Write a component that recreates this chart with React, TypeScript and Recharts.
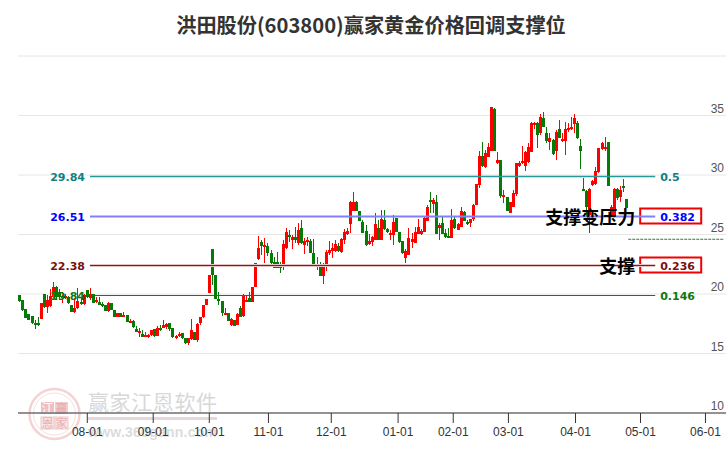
import { ComposedChart, Bar, XAxis, YAxis, CartesianGrid, ReferenceLine } from 'recharts'

const opens = [
  19.91, 19.49, 18.73, 18.31, 18.15, 17.53, 17.53, 17.92, 19.97, 18.93,
  18.99, 19.77, 20.61, 20.19, 19.71, 19.69, 19.71, 19.07, 18.51, 18.79,
  19.35, 19.13, 20.33, 19.63, 19.99, 19.29, 19.32, 19.13, 19.07, 18.59,
  19.21, 18.65, 18.09, 18.43, 18.15, 18.2, 17.67, 17.75, 17.05, 16.77,
  16.63, 16.47, 16.47, 16.55, 17.03, 16.49, 17.14, 17.17, 17.25, 17.53,
  17.11, 16.35, 16.47, 16.69, 16.3, 15.91, 16.21, 16.8, 16.13, 17.59,
  18.03, 19.07, 20.11, 23.77, 21.59, 19.6, 19.41, 18.29, 18.43, 17.39,
  17.81, 17.42, 18.79, 18.17, 19.4, 19.63, 19.35, 20.61, 22.91, 24.36,
  23.97, 24.03, 23.41, 22.65, 22.65, 22.34, 22.29, 23.83, 24.95, 24.56,
  24.75, 24.31, 25.54, 24.11, 24.39, 24.47, 23.41, 22.34, 22.37, 21.53,
  22.29, 23.47, 23.64, 23.63, 24.03, 23.49, 24.53, 25.06, 25.85, 26.99,
  27.72, 26.97, 26.04, 25.29, 24.19, 24.36, 24.56, 25.57, 24.56, 26.21,
  25.45, 24.98, 24.98, 26.38, 25.2, 24.45, 23.05, 23.27, 24.33, 24.31,
  25.06, 25.06, 25.23, 26.15, 27.86, 27.58, 27.69, 25.51, 25.93, 25.15,
  24.87, 24.73, 26.27, 25.4, 25.65, 26.88, 26.07, 25.99, 26.27, 27.44,
  29.15, 31.59, 30.69, 31.53, 32.03, 35.56, 31.03, 31.25, 28.11, 28.11,
  26.83, 27.33, 28.37, 30.75, 30.97, 30.77, 31.11, 31.95, 34.19, 34.39,
  33.49, 34.75, 33.55, 32.79, 32.93, 32.01, 33.85, 32.87, 32.87, 33.74,
  33.88, 34.27, 34.33, 32.43, 28.84, 28.65, 26.63, 29.18, 29.21, 30.27,
  32.17, 32.17, 32.76, 26.55, 26.55, 28.79, 28.17, 29.07, 27.97,
]

const closes = [
  19.43, 18.65, 18.01, 17.81, 17.59, 17.45, 17.39, 19.21, 18.87, 19.49,
  19.85, 20.61, 19.77, 19.71, 19.83, 19.83, 19.21, 18.51, 18.79, 19.41,
  19.21, 19.91, 19.71, 19.99, 19.21, 19.49, 19.07, 18.99, 18.59, 19.21,
  18.65, 18.09, 18.37, 18.09, 18.23, 17.67, 17.75, 17.25, 16.83, 16.86,
  16.41, 16.52, 16.52, 16.97, 16.47, 17.11, 17.08, 17.36, 17.47, 17.03,
  16.41, 16.47, 16.63, 16.27, 15.91, 16.27, 16.97, 16.13, 17.47, 18.09,
  19.07, 19.55, 21.59, 21.59, 19.55, 19.52, 18.37, 18.43, 17.75, 17.87,
  17.33, 18.29, 18.09, 19.85, 19.5, 19.35, 20.55, 22.57, 23.83, 24.05,
  24.11, 23.41, 22.57, 22.21, 22.21, 22.26, 24.19, 25.17, 24.81, 24.75,
  24.53, 25.37, 24.25, 24.47, 24.53, 23.41, 22.37, 22.43, 21.53, 22.37,
  23.49, 23.69, 23.83, 24.19, 23.58, 24.61, 25.17, 25.29, 27.75, 27.75,
  26.99, 26.13, 25.15, 24.11, 24.45, 24.81, 25.87, 24.56, 26.29, 25.43,
  25.23, 25.09, 26.04, 25.23, 24.39, 23.47, 23.61, 24.7, 24.61, 25.17,
  25.62, 25.31, 26.41, 27.3, 27.75, 27.86, 25.06, 25.79, 25.03, 24.81,
  24.75, 26.21, 25.57, 25.87, 26.97, 26.13, 25.99, 26.27, 27.47, 29.23,
  31.59, 30.77, 31.81, 32.37, 35.7, 32.03, 31.25, 28.23, 28.31, 26.99,
  27.75, 28.45, 30.97, 31.05, 31.17, 31.95, 32.37, 34.33, 34.39, 33.35,
  34.89, 34.05, 32.85, 33.07, 31.75, 33.6, 33.13, 32.99, 33.85, 33.99,
  34.05, 34.78, 33.07, 32.03, 28.76, 27.3, 28.84, 29.51, 30.33, 32.23,
  32.71, 32.37, 29.09, 27.33, 28.84, 28.03, 28.73, 28.98, 27.19,
]

const highs = [
  19.91, 19.49, 18.73, 18.31, 18.15, 17.81, 18.09, 19.21, 19.97, 19.91,
  20.39, 21.0, 20.67, 20.41, 20.19, 20.0, 19.8, 19.07, 19.63, 20.47,
  19.63, 20.0, 20.35, 20.47, 19.99, 19.77, 19.71, 19.3, 19.1, 19.32,
  19.21, 18.65, 18.37, 18.43, 18.51, 18.2, 17.86, 17.8, 17.3, 17.11,
  16.97, 16.83, 16.63, 17.0, 17.05, 17.31, 17.36, 17.81, 17.59, 17.53,
  17.11, 16.55, 16.77, 16.72, 16.3, 16.3, 17.89, 16.8, 17.53, 18.09,
  19.07, 19.55, 21.59, 23.77, 21.59, 20.19, 19.41, 18.79, 18.43, 17.95,
  17.81, 18.4, 19.0, 20.0, 19.85, 20.19, 20.55, 22.57, 24.87, 24.53,
  24.67, 24.25, 23.69, 23.13, 23.55, 22.71, 24.53, 25.54, 25.37, 24.95,
  25.65, 25.93, 26.21, 24.67, 24.81, 24.61, 24.61, 23.13, 22.65, 22.57,
  23.69, 24.45, 24.25, 24.53, 24.31, 24.67, 25.43, 25.51, 27.81, 28.56,
  27.81, 27.0, 26.21, 25.79, 25.03, 24.87, 26.8, 26.21, 27.05, 27.05,
  25.51, 25.37, 26.63, 26.38, 25.2, 24.45, 23.75, 25.54, 25.09, 25.65,
  26.27, 25.45, 26.55, 27.47, 28.56, 28.03, 28.28, 25.99, 26.55, 25.43,
  25.51, 27.13, 26.55, 25.93, 27.3, 26.99, 26.21, 26.3, 27.53, 29.23,
  32.0, 32.76, 32.09, 32.71, 35.7, 35.6, 31.95, 31.25, 28.73, 28.11,
  27.75, 28.73, 30.97, 31.17, 32.43, 32.03, 32.7, 34.45, 34.45, 34.45,
  35.1, 35.28, 34.0, 33.49, 33.0, 33.77, 34.6, 33.49, 34.47, 34.33,
  34.89, 35.11, 34.5, 32.99, 29.71, 28.73, 28.87, 29.6, 30.69, 32.25,
  32.79, 33.21, 32.76, 27.5, 28.9, 28.87, 29.07, 29.65, 27.97,
]

const lows = [
  19.35, 18.57, 18.01, 17.81, 17.47, 17.08, 17.31, 17.92, 18.79, 18.43,
  18.93, 19.63, 19.49, 19.5, 19.27, 19.55, 19.15, 18.51, 18.43, 18.7,
  19.07, 19.05, 19.7, 19.5, 19.21, 19.25, 19.05, 18.9, 18.55, 18.5,
  18.65, 18.09, 18.05, 18.05, 18.09, 17.67, 17.59, 17.17, 16.77, 16.41,
  16.35, 16.35, 16.33, 16.5, 16.41, 16.45, 16.91, 17.15, 17.08, 16.85,
  16.33, 16.21, 16.4, 16.2, 15.79, 15.74, 16.15, 16.13, 15.93, 17.39,
  18.0, 19.05, 20.11, 20.75, 19.55, 19.07, 18.15, 18.25, 17.75, 17.35,
  17.33, 17.4, 18.09, 18.1, 19.35, 19.32, 19.35, 20.61, 22.85, 23.27,
  22.63, 23.21, 22.43, 22.15, 22.15, 21.79, 22.01, 23.75, 24.36, 23.75,
  24.31, 24.11, 24.2, 23.35, 24.03, 23.41, 22.37, 22.0, 21.53, 20.83,
  21.93, 23.27, 23.05, 23.49, 23.5, 23.41, 24.19, 24.95, 25.09, 26.95,
  26.95, 26.13, 25.15, 24.03, 24.08, 24.03, 24.56, 24.56, 24.56, 25.4,
  25.09, 24.53, 24.11, 25.2, 24.31, 23.35, 22.63, 23.27, 23.89, 24.31,
  25.06, 25.0, 25.2, 26.1, 26.83, 26.77, 25.06, 24.56, 25.03, 24.7,
  24.7, 24.7, 25.43, 25.37, 25.6, 26.1, 25.79, 25.65, 26.15, 27.44,
  28.87, 30.69, 30.55, 31.5, 32.0, 32.0, 30.91, 28.1, 27.67, 26.99,
  26.8, 27.3, 28.2, 30.69, 30.9, 30.33, 31.0, 31.9, 33.9, 32.23,
  33.4, 34.05, 32.7, 32.1, 31.7, 31.25, 33.1, 32.8, 31.67, 33.6,
  33.8, 33.49, 32.99, 30.49, 28.73, 26.5, 25.15, 29.1, 29.15, 30.2,
  32.1, 32.05, 29.05, 26.5, 26.5, 27.9, 27.75, 28.59, 27.19,
]

// month starts sit between trading-day slots on this chart
const monthSlots = [22.19, 43.7, 62.0, 81.3, 101.8, 123.6, 141.6, 159.6, 181.5, 202.7, 223.9]
const monthLabels = ['08-01', '09-01', '10-01', '11-01', '12-01', '01-01', '02-01', '03-01', '04-01', '05-01', '06-01']
const priceTicks = [10, 15, 20, 25, 30, 35]

const levelValues = [29.84, 26.51, 22.38, 19.84]
const levelRatios = ['0.5', '0.382', '0.236', '0.146']
const levelColors = ['#0f7f7f', '#0000ff', '#7a1010', '#0a7a0a']
const levelLines = ['#259a9a', '#8080ff', '#7a1f1f', '#0f7d0f']
const levelWidths = [1.5, 2, 1, 1]
const levelBoxed = [false, true, true, false]
const levelNotes = ['', '支撑变压力', '支撑', '']

const chartData = opens.map((open, i) => ({
  slot: i,
  open,
  close: closes[i],
  high: highs[i],
  low: lows[i],
}))

const CJK = '"Noto Sans CJK SC", sans-serif'
const levelFont = '"DejaVu Sans", sans-serif'

const Candle = (props: any) => {
  const { x, y, width, height, payload } = props
  const perUnit = height / (payload.high - payload.low)
  const isUp = payload.close >= payload.open
  const fill = isUp ? '#ff0000' : '#067a06'
  const cx = Math.round(x + width / 2)
  const top = y + (payload.high - Math.max(payload.open, payload.close)) * perUnit
  const bodyHeight = Math.max(2, Math.abs(payload.close - payload.open) * perUnit)
  return (
    <g shapeRendering="crispEdges">
      <rect x={cx} y={y} width={1} height={height} fill={fill} />
      <rect x={cx - 1} y={top} width={3} height={bodyHeight} fill={fill} />
    </g>
  )
}

const priceTick = (props: any) => (
  <text x={724} y={props.y - 3} textAnchor="end" fontSize={12} fontFamily="Liberation Sans" fill="#555">
    {props.payload.value}
  </text>
)

const levelShape = (index: number) => (props: any) => {
  const { x1, x2, y1 } = props
  const y = Math.floor(y1) + 0.5
  return (
    <g>
      {levelBoxed[index] && (
        <rect x={x2 - 15} y={y - 8} width={61} height={15} fill="#fff" stroke="#f00000" strokeWidth={2} />
      )}
      {index === 2 && <line x1={x1} x2={x2} y1={y} y2={y} stroke="#e6c4c4" strokeWidth={3} />}
      <line x1={x1} x2={x2} y1={y} y2={y} stroke={levelLines[index]} strokeWidth={levelWidths[index]} />
      <text x={x1 - 5} y={y + 4} textAnchor="end" fontSize={11} fontWeight="bold" fontFamily={levelFont} fill={levelColors[index]}>
        {levelValues[index].toFixed(2)}
      </text>
      <text x={x2 + 5} y={y + 4} fontSize={11} fontWeight="bold" fontFamily={levelFont} fill={levelColors[index]}>
        {levelRatios[index]}
      </text>
      {levelNotes[index] && (
        <text x={x2 - 20} y={y + 7} textAnchor="end" fontSize={18} fontWeight="bold" fontFamily={CJK} fill="#000">
          {levelNotes[index]}
        </text>
      )}
    </g>
  )
}

const Watermark = () => (
  <svg width={726} height={450} style={{ position: 'absolute', left: 0, top: 0 }}>
    <circle cx={54.5} cy={414} r={25} fill="none" stroke="#f3d3d3" strokeWidth={2.5} />
    <circle cx={54.5} cy={414} r={21} fill="none" stroke="#f6e0e0" strokeWidth={1} />
    <rect x={41} y={402} width={13} height={12} fill="#efc0c0" />
    <rect x={55} y={402} width={13} height={12} fill="#f3d0d0" />
    <rect x={41} y={417} width={13} height={12} fill="#f8e4e4" stroke="#efc8c8" />
    <rect x={55} y={417} width={13} height={12} fill="#f8e4e4" stroke="#efc8c8" />
    <text x={47.5} y={412.5} textAnchor="middle" fontSize={12} fontFamily={CJK} fill="#fff">江</text>
    <text x={61.5} y={412.5} textAnchor="middle" fontSize={12} fontFamily={CJK} fill="#e8a8a8">赢</text>
    <text x={47.5} y={427.5} textAnchor="middle" fontSize={12} fontFamily={CJK} fill="#e8b0b0">恩</text>
    <text x={61.5} y={427.5} textAnchor="middle" fontSize={12} fontFamily={CJK} fill="#e8b0b0">家</text>
    <text x={88} y={410} fontSize={21} fontFamily={CJK} fill="#d8d8d8" textLength={129} lengthAdjust="spacing">
      赢家江恩软件
    </text>
    <rect x={88} y={417} width={129} height={3} fill="#e6d8d8" />
    <text x={88} y={437} fontSize={14} fontWeight="bold" fontFamily="Liberation Sans" fill="#dcdcdc" textLength={129} lengthAdjust="spacing">
      www.360gann.com
    </text>
  </svg>
)

export default function App() {
  return (
    <div style={{ position: 'absolute', left: 0, top: 0, width: 726, height: 450, background: '#fff', overflow: 'hidden' }}>
      <Watermark />
      <div
        style={{
          position: 'absolute',
          left: 0,
          top: 10,
          width: 742,
          textAlign: 'center',
          fontFamily: CJK,
          fontWeight: 700,
          fontSize: 20.2,
          lineHeight: '30px',
          color: '#333',
        }}
      >
        洪田股份(603800)赢家黄金价格回调支撑位
      </div>
      <div style={{ position: 'absolute', left: 0, top: 0 }}>
        <ComposedChart width={726} height={450} data={chartData} margin={{ top: 56, right: -1, bottom: 0, left: 18 }}>
          <CartesianGrid vertical={false} stroke="#e6e6e6" />
          <XAxis
            dataKey="slot"
            type="number"
            domain={[-0.42, 230.6]}
            ticks={monthSlots}
            interval={0}
            height={37}
            stroke="#333"
            tickSize={10}
            tickMargin={4}
            tick={{ fontSize: 12, fontFamily: 'Liberation Sans', fill: '#333' }}
            tickFormatter={(_: number, i: number) => monthLabels[i]}
          />
          <YAxis
            orientation="right"
            width={1}
            domain={[10, 40]}
            ticks={priceTicks}
            axisLine={false}
            tickLine={false}
            tick={priceTick}
          />
          <Bar
            dataKey={(d: any) => [d.low, d.high]}
            barSize={3}
            shape={Candle}
            isAnimationActive={false}
          />
          <ReferenceLine
            segment={[{ x: 198.7, y: 24.6 }, { x: 229.7, y: 24.6 }]}
            stroke="#2e7d32"
            strokeDasharray="3 1"
          />
          {levelValues.map((value, i) => (
            <ReferenceLine
              key={value}
              segment={[{ x: 23.07, y: value }, { x: 207.5, y: value }]}
              shape={levelShape(i)}
            />
          ))}
        </ComposedChart>
      </div>
    </div>
  )
}
